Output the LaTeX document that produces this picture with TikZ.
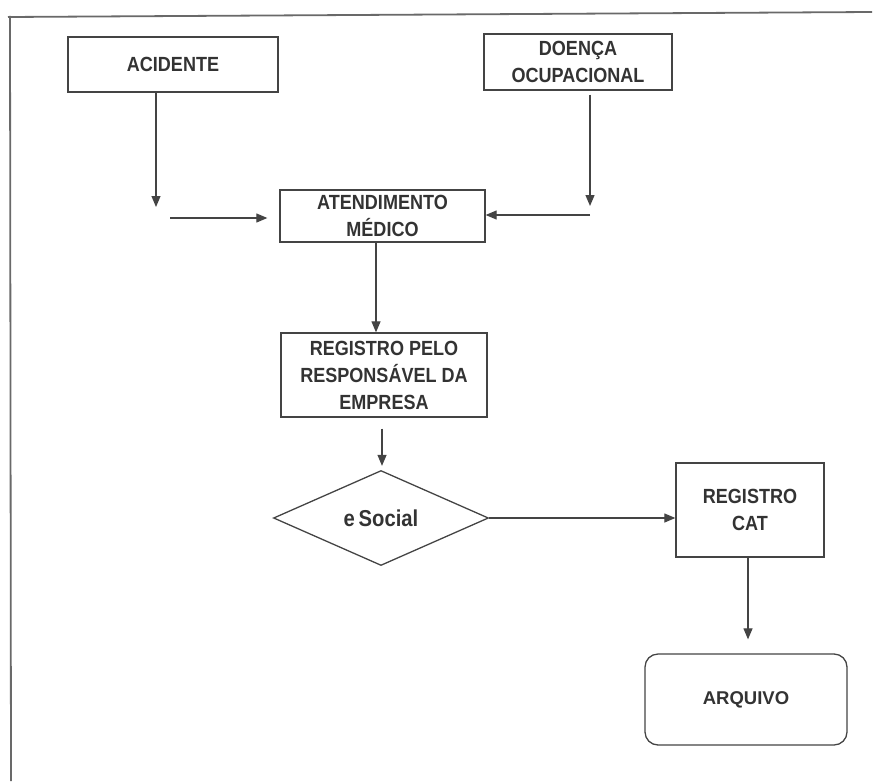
\documentclass[tikz,border=0pt]{standalone}
\usepackage{fontspec}
\setmainfont{Liberation Sans}
\newfontfamily\narrowfont[FakeStretch=0.88]{Liberation Sans}
\usetikzlibrary{arrows.meta,shapes.geometric}
\definecolor{ink}{HTML}{444444}
\definecolor{txt}{HTML}{333333}
\tikzset{
  box/.style={draw=ink,line width=1.3pt,rectangle,inner sep=0pt,align=center,
    font=\narrowfont\fontsize{20.5}{27}\selectfont\bfseries,text=txt},
  arr/.style={draw=ink,line width=1.2pt,-{Triangle[length=11pt,width=9pt]}},
  frame/.style={draw=ink!80,line width=1.8pt}
}
\begin{document}
\begin{tikzpicture}[x=1pt,y=-1pt]
\useasboundingbox (0,0) rectangle (882,781);
% frame (top and left only)
\draw[frame] (8,17) -- (872,12);
\draw[frame] (10,16) -- (11,781);
% nodes
\node[box,minimum width=210pt,minimum height=55pt] (acid) at (173,64.5) {ACIDENTE};
\node[box,minimum width=188pt,minimum height=56pt] (doenca) at (578,62) {DOENÇA\\OCUPACIONAL};
\node[box,minimum width=205pt,minimum height=52pt] (atend) at (382.5,216) {ATENDIMENTO\\MÉDICO};
\node[box,minimum width=206pt,minimum height=84pt] (regpelo) at (384,375) {REGISTRO PELO\\RESPONSÁVEL DA\\EMPRESA};
\node[box,diamond,minimum width=215pt,minimum height=95pt,font=\narrowfont\fontsize{23}{26}\selectfont\bfseries] (esocial) at (381,518) {e\,Social};
\node[box,minimum width=148pt,minimum height=94pt] (cat) at (750,510) {REGISTRO\\CAT};
\node[box,rounded corners=13pt,minimum width=202pt,minimum height=91pt,font=\fontsize{18.5}{24}\selectfont\bfseries] (arquivo) at (746,699.5) {ARQUIVO};
% free ends
\coordinate (a1) at (156,207);
\coordinate (a2) at (170,218);
\coordinate (d1) at (590,206);
\coordinate (d2) at (590,215);
\coordinate (m1) at (376,0);
\coordinate (r1) at (382,0);
\coordinate (c1) at (748,0);
% connectors
\draw[arr] (acid.south -| a1) -- (a1);
\draw[arr,shorten >=12pt] (a2) -- (a2 -| atend.west);
\draw[arr,shorten <=4pt] (doenca.south -| d1) -- (d1);
\draw[arr] (d2) -- (d2 -| atend.east);
\draw[arr] (atend.south -| m1) -- (regpelo.north -| m1);
\draw[arr,shorten <=11pt,shorten >=4pt] (regpelo.south -| r1) -- (esocial.north -| r1);
\draw[arr] (esocial.east) -- (esocial.east -| cat.west);
\draw[arr,shorten >=14pt] (cat.south -| c1) -- (arquivo.north -| c1);
\end{tikzpicture}
\end{document}
